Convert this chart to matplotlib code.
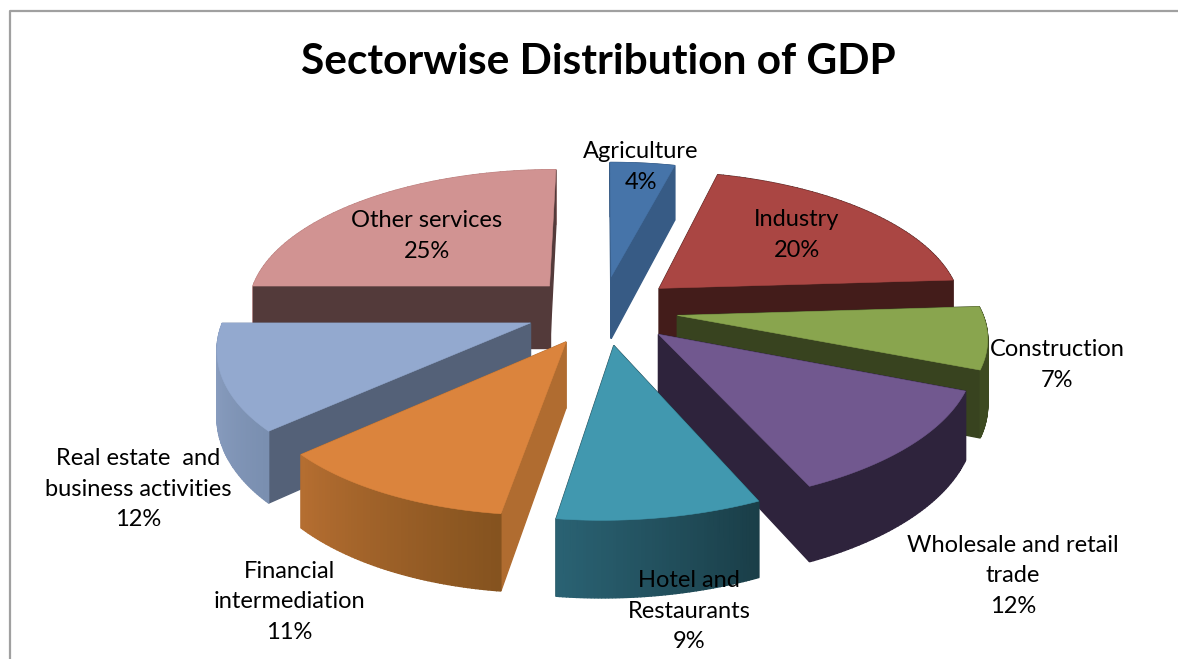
import numpy as np
import matplotlib
matplotlib.use("Agg")
import matplotlib.pyplot as plt
from matplotlib.colors import to_rgb

plt.rcParams['font.family'] = ['Lato', 'DejaVu Sans']

# GDP share per sector, percent
sectors = ["Agriculture", "Industry", "Construction", "Wholesale and retail\ntrade",
           "Hotel and\nRestaurants", "Financial\nintermediation",
           "Real estate  and\nbusiness activities", "Other services"]
shares = [4, 20, 7, 12, 9, 11, 12, 25]

# top face, cut wall, outer wall start and end colours
top_colors = ['#4674A9', '#AA4643', '#89A54E', '#71588F', '#4198AF', '#DB843D', '#93A9CF', '#D19392']
cut_colors = ['#375B85', '#431C1A', '#38431F', '#2E233C', '#1A3E48', '#B06C30', '#546178', '#533A3A']
wall_start = ['#375B85', '#431C1A', '#3D4A21', '#2E233C', '#1A3E48', '#85531F', '#7A8FB0', '#B57A78']
wall_end = ['#375B85', '#431C1A', '#3D4A21', '#2E233C', '#2A6273', '#B56E31', '#8FA3C6', '#B57A78']

# centre of each data label on the canvas
label_pos = [(641, 167), (797, 235), (1057, 365), (1013, 576), (689, 611), (289, 602), (138, 489), (427, 236)]

# projection of the pie
cx, cy = 602, 310
rx, ry = 304, 139
persp = 0.141
lean = 0.025
depth = 64
explode = 0.25


def project(x, y):
    s = 1 / (1 - persp * y)
    # the near rim leans a little to the left
    x = x - lean * max(y, 0) ** 2
    return cx + rx * x * s, cy + ry * y * s, depth * s


def quad(ax, a, b, color, zorder):
    xs = [a[0], b[0], b[0], a[0]]
    ys = [a[1], b[1], b[1] + b[2], a[1] + a[2]]
    ax.fill(xs, ys, color=color, lw=1, zorder=zorder)


def draw_slice(ax, start, end, i, zorder):
    mid = np.radians((start + end) / 2)
    ox, oy = explode * np.sin(mid), -explode * np.cos(mid)
    angles = np.radians(np.linspace(start, end, 60))
    apex = project(ox, oy)
    rim = [project(ox + np.sin(t), oy - np.cos(t)) for t in angles]

    # collect side walls, then paint them back to front
    walls = [(apex, rim[0], cut_colors[i]), (apex, rim[-1], cut_colors[i])]
    c0, c1 = np.array(to_rgb(wall_start[i])), np.array(to_rgb(wall_end[i]))
    for k in range(len(rim) - 1):
        f = k / (len(rim) - 2)
        walls.append((rim[k], rim[k + 1], tuple(c0 * (1 - f) + c1 * f)))
    walls.sort(key=lambda w: w[0][1] + w[1][1])
    for a, b, color in walls:
        quad(ax, a, b, color, zorder)

    xs = [apex[0]] + [p[0] for p in rim]
    ys = [apex[1]] + [p[1] for p in rim]
    ax.fill(xs, ys, color=top_colors[i], lw=0.4, zorder=zorder + 0.5)


fig = plt.figure(figsize=(11.78, 6.59), dpi=100)
ax = fig.add_axes([0, 0, 1, 1])
ax.set_xlim(0, 1178)
ax.set_ylim(659, 0)
ax.axis('off')

# chart frame, only top and left edges are in view
ax.plot([10, 10, 1178], [659, 11, 11], color='#A0A0A0', lw=1.6, zorder=0)

# slices clockwise from 12 o'clock, nearest one painted last
edges = np.concatenate([[0], np.cumsum(shares)]) * 360 / sum(shares)
mids = (edges[:-1] + edges[1:]) / 2
order = np.argsort(-np.cos(np.radians(mids)))
for n, i in enumerate(order):
    draw_slice(ax, edges[i], edges[i + 1], i, 2 + n)

for name, value, (lx, ly) in zip(sectors, shares, label_pos):
    ax.text(lx, ly, f"{name}\n{value}%", ha='center', va='center', fontsize=17,
            linespacing=1.55, color='black', zorder=20)

ax.text(598, 62, "Sectorwise Distribution of GDP", ha='center', va='center',
        fontsize=30.5, fontweight='bold', color='black', zorder=20)

fig.savefig("out.png", dpi=100)
